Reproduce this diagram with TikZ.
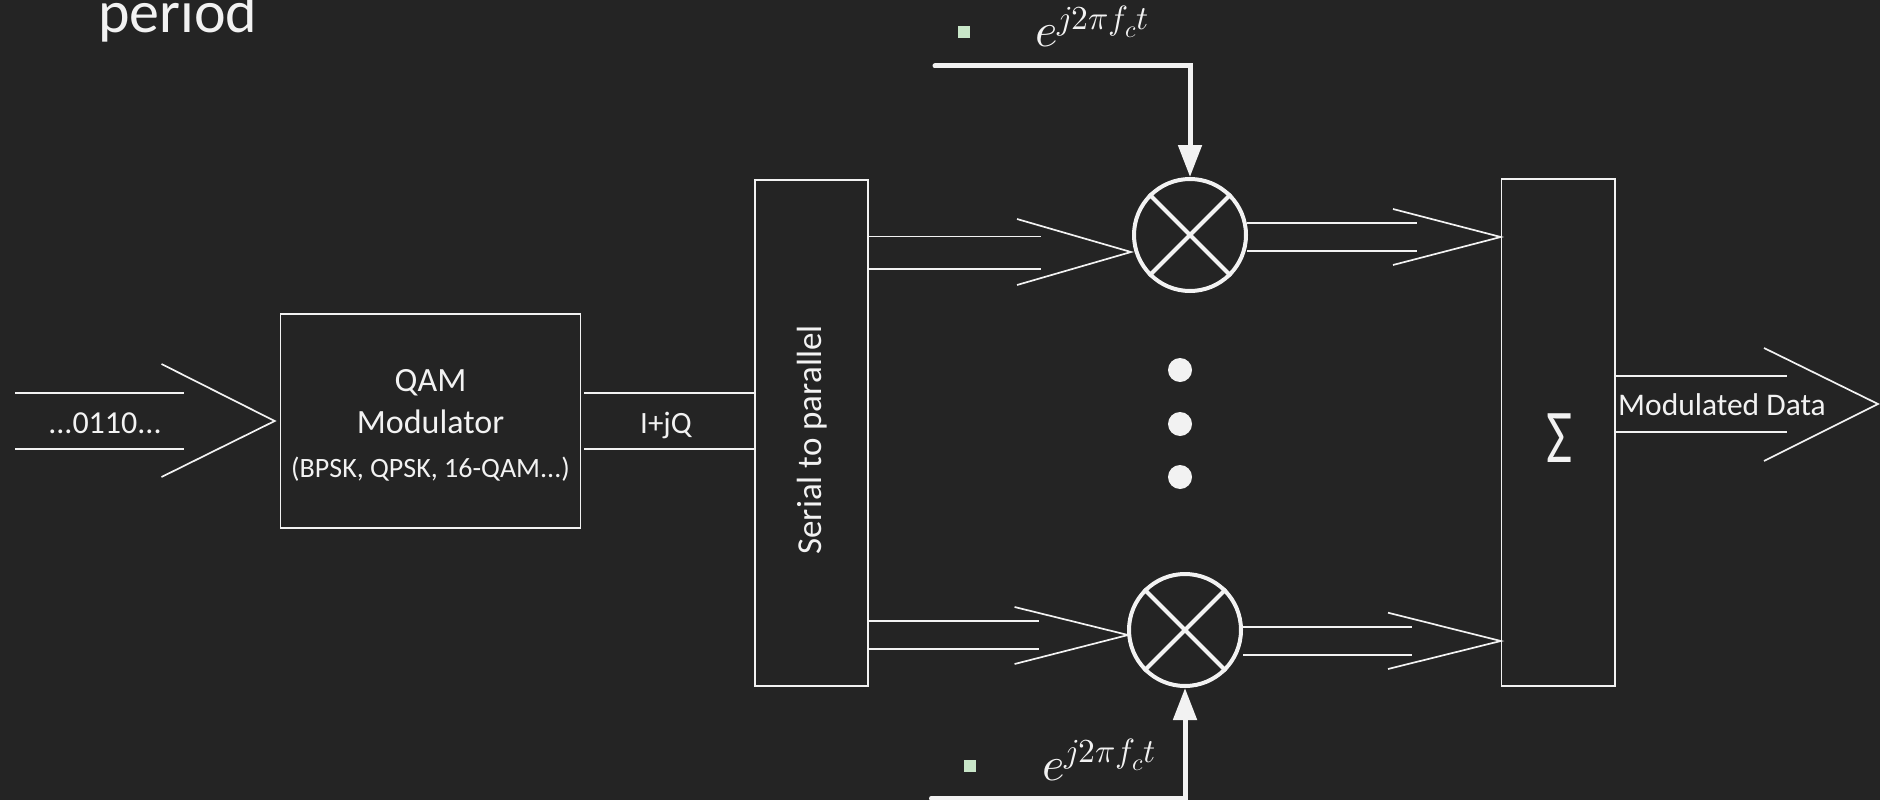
\documentclass[tikz,border=0pt]{standalone}
\usepackage{fontspec}
\usepackage{unicode-math}
\setmainfont{Carlito}
\setmathfont{Latin Modern Math}
\usetikzlibrary{arrows.meta,calc}
\definecolor{board}{RGB}{36,36,36}
\definecolor{chalk}{RGB}{242,242,242}
\definecolor{bulletgreen}{RGB}{200,230,200}
\begin{document}
\begin{tikzpicture}[x=1pt,y=-1pt,
  thinline/.style={draw=chalk,line width=1.7pt},
  box/.style={draw=chalk,line width=1.6pt,rectangle,inner sep=0pt},
  mult/.style={circle,draw=chalk,line width=4pt,minimum size=112pt,inner sep=0pt},
  fatline/.style={draw=chalk,line width=5pt},
  lbl/.style={text=chalk,inner sep=0pt},
  dotmark/.style={circle,fill=chalk,minimum size=24pt,inner sep=0pt},
  sq/.style={rectangle,fill=bulletgreen,minimum size=12pt,inner sep=0pt}]
\fill[board] (0,0) rectangle (1880,800);
\useasboundingbox (0,0) rectangle (1880,800);

% title fragment
\node[lbl,anchor=base west,font=\fontsize{60}{66}\selectfont] (title) at (98,33) {period};

% blocks
\node[box,minimum width=300pt,minimum height=214pt] (qam) at (430.5,421) {};
\node[box,minimum width=113pt,minimum height=506pt] (s2p) at (811.5,433) {};
\node[box,minimum width=113.5pt,minimum height=507pt] (sum) at (1558.3,432.5) {};
\node[mult] (m1) at (1190,235) {};
\node[mult] (m2) at (1185,630) {};
\draw[chalk,line width=4pt] (m1.45) -- (m1.225) (m1.135) -- (m1.315);
\draw[chalk,line width=4pt] (m2.45) -- (m2.225) (m2.135) -- (m2.315);

% texts
\node[lbl,anchor=base,font=\fontsize{32}{36}\selectfont] (bits) at (105,433) {...0110...};
\node[lbl,anchor=base,font=\fontsize{34}{38}\selectfont] (qam1) at (430.5,391) {QAM};
\node[lbl,anchor=base,font=\fontsize{34}{38}\selectfont] (qam2) at (430.5,433) {Modulator};
\node[lbl,anchor=base,font=\fontsize{28}{32}\selectfont] (qam3) at (430.5,477) {(BPSK, QPSK, 16-QAM...)};
\node[lbl,anchor=base,font=\fontsize{31}{36}\selectfont] (iq) at (666,433) {I+jQ};
\node[lbl,anchor=base,rotate=90,font=\fontsize{35}{40}\selectfont] (s2pt) at (821.7,440) {Serial to parallel};
\node[lbl,anchor=base,font=\fontsize{76}{80}\selectfont] (sig) at (1560,462) {\scalebox{0.75}[1]{Σ}};
\node[lbl,anchor=base west,font=\fontsize{31.5}{36}\selectfont] (mod) at (1618,415) {Modulated Data};

% carrier inputs
\node[sq] (b1) at (964,32) {};
\node[lbl,anchor=base west,font=\fontsize{48}{52}\selectfont] (e1) at (1035,47) {$e^{j2\pi f_c t}$};
\node[sq] (b2) at (970,766) {};
\node[lbl,anchor=base west,font=\fontsize{48}{52}\selectfont] (e2) at (1042,780) {$e^{j2\pi f_c t}$};
\coordinate (c1) at (935,66);
\coordinate (c2) at (931.5,798);
\draw[fatline,line cap=round,-{Triangle[width=23pt,length=32pt]}] (c1) -| (m1.north);
\draw[fatline,line cap=round,-{Triangle[width=23pt,length=32pt]}] (c2) -| (m2.south);

% dots
\node[dotmark] (d1) at (1180,370) {};
\node[dotmark] (d2) at (1180,424) {};
\node[dotmark] (d3) at (1180,477) {};

% input arrow
\coordinate (src) at (15,421);
\draw[thinline] (15,392.7) -- (184,392.7) (15,449) -- (184,449);
\draw[thinline] (161.5,364) -- ([xshift=-5pt]qam.west) -- (161.5,477);

% I+jQ
\draw[thinline] (584,392.7) -- (s2p.west |- 0,392.7) (584,449) -- (s2p.west |- 0,449);

% s2p -> m1
\draw[thinline] (s2p.east |- 0,236.5) -- (1040.7,236.5) (s2p.east |- 0,269) -- (1040.7,269);
\draw[thinline] (1017,219) -- (1131,252) -- (1017,285);
% s2p -> m2
\draw[thinline] (s2p.east |- 0,621) -- (1038.7,621) (s2p.east |- 0,649.3) -- (1038.7,649.3);
\draw[thinline] (1014.6,607) -- (1128,635) -- (1014.6,664);
% m1 -> sum
\draw[thinline] (1247,222.7) -- (1417,222.7) (1247,250.7) -- (1417,250.7);
\draw[thinline] (1393,209) -- (sum.west |- 0,237) -- (1393,265);
% m2 -> sum
\draw[thinline] (1243,627.3) -- (1411.7,627.3) (1243,655.3) -- (1411.7,655.3);
\draw[thinline] (1388,612.7) -- (sum.west |- 0,641) -- (1388,669);
% sum -> out
\coordinate (out) at (1878,404);
\draw[thinline] (sum.east |- 0,376) -- (1787,376) (sum.east |- 0,432) -- (1787,432);
\draw[thinline] (1764,348) -- (out) -- (1764,461);
\end{tikzpicture}
\end{document}
